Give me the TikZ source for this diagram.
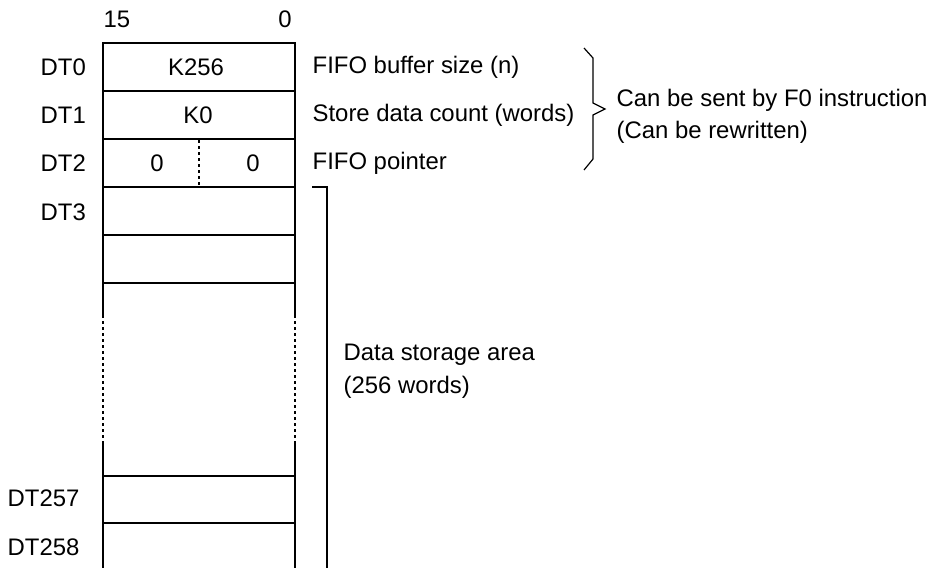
\documentclass[tikz,border=0pt]{standalone}
\usepackage{fontspec}
\setmainfont{Liberation Sans}
\begin{document}
\begin{tikzpicture}[x=1pt,y=-1pt,
  line width=1.3pt,
  txt/.style={font=\fontsize{23.9}{28}\selectfont, inner sep=0pt},
  lbl/.style={txt, anchor=west},
  dotline/.style={line width=1.1pt, dash pattern=on 3pt off 3pt}]
\useasboundingbox (0,0) rectangle (930,568);
% column bit numbers
\node[txt] (b15) at (117,19) {15};
\node[txt] (b0) at (285,19) {0};
% box frame
\draw (103,315) -- (103,43) -- (295,43) -- (295,315);
\draw (103,442) -- (103,568);
\draw (295,442) -- (295,568);
\draw[dotline] (103,315) -- (103,442);
\draw[dotline] (295,315) -- (295,442);
\foreach \y in {91,139,187,235,283,476,523} \draw (103,\y) -- (295,\y);
\draw[dotline] (199,140) -- (199,187);
% register names
\node[txt,anchor=west] (dt0) at (40,67) {DT0};
\node[txt,anchor=west] (dt1) at (40,115) {DT1};
\node[txt,anchor=west] (dt2) at (40,163) {DT2};
\node[txt,anchor=west] (dt3) at (40,212) {DT3};
\node[txt,anchor=west] (dt257) at (7,498) {DT257};
\node[txt,anchor=west] (dt258) at (7,547) {DT258};
% values
\node[txt] (v0) at (196,67) {K256};
\node[txt] (v1) at (198,115) {K0};
\node[txt] (v2a) at (157,163) {0};
\node[txt] (v2b) at (253,163) {0};
% descriptions
\node[lbl] (d0) at (312,67) {FIFO buffer size (n)};
\node[lbl] (d1) at (312,115) {Store data count (words)};
\node[lbl] (d2) at (312,163) {FIFO pointer};
% brace
\draw[line width=1.2pt] (584,48) -- (593,58) -- (593,103) -- (605,109) -- (593,115) -- (593,159) -- (584,170);
\node[lbl] (c1) at (616,100) {Can be sent by F0 instruction};
\node[lbl] (c2) at (616,132) {(Can be rewritten)};
% data storage bracket
\coordinate (s0) at (312,187);
\coordinate (s1) at (327,187);
\coordinate (s2) at (327,568);
\draw (s0) -- (s1) -- (s2);
\node[lbl] (ds1) at (343,355) {Data storage area};
\node[lbl] (ds2) at (343,387) {(256 words)};
\end{tikzpicture}
\end{document}
